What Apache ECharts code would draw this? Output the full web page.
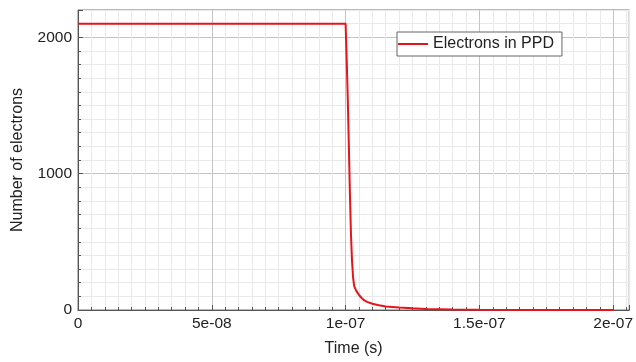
<!DOCTYPE html>
<html>
<head>
<meta charset="utf-8">
<script src="https://cdn.jsdelivr.net/npm/echarts@6/dist/echarts.min.js"></script>
<style>html,body{margin:0;padding:0;background:#fff}#c{width:636px;height:362px}</style>
</head>
<body>
<div id="c"></div>
<script>
var seriesName = 'Electrons in PPD';
var timeS = [0, 1.000e-7, 1.004e-7, 1.008e-7, 1.012e-7, 1.016e-7, 1.020e-7, 1.024e-7, 1.028e-7, 1.032e-7, 1.040e-7, 1.050e-7, 1.060e-7, 1.070e-7, 1.080e-7, 1.100e-7, 1.120e-7, 1.150e-7, 1.200e-7, 1.250e-7, 1.300e-7, 1.400e-7, 1.500e-7, 1.700e-7, 2.000e-7];
var electrons = [2100, 2100, 1850, 1560, 1220, 870, 560, 360, 240, 175, 140, 110, 88, 70, 60, 46, 36, 25, 18, 12, 7, 3, 1, 0, 0];
var xTickValues = [0, 5e-8, 1e-7, 1.5e-7, 2e-7];
var xTickLabels = ['0', '5e-08', '1e-07', '1.5e-07', '2e-07'];
var yTickValues = [0, 1000, 2000];
var yTickLabels = ['0', '1000', '2000'];

var FONT = '"Liberation Sans", Arial, sans-serif';
var X_MAX = 2.06e-7, Y_MAX = 2200;
var minorColors = ['#c4c4c4','#e9e9e9','#e9e9e9','#e9e9e9','#e9e9e9','#e9e9e9','#e9e9e9','#e9e9e9','#e9e9e9','#e9e9e9'];

function lookup(vals, labels, v, tol) {
  for (var i = 0; i < vals.length; i++) if (Math.abs(vals[i] - v) < tol) return labels[i];
  return '';
}

var chart = echarts.init(document.getElementById('c'), null, {renderer: 'canvas'});
var data = timeS.map(function (t, i) { return [t, electrons[i]]; });

chart.setOption({
  animation: false,
  backgroundColor: '#fff',
  grid: {left: 78, right: 4, top: 10, bottom: 52, show: true, borderColor: '#777', borderWidth: 1, backgroundColor: 'transparent'},
  legend: {
    data: [seriesName], left: 397, top: 32, orient: 'vertical',
    padding: [4, 8, 4, 1], itemWidth: 30, itemHeight: 2, icon: 'rect',
    backgroundColor: '#fff', borderColor: '#666', borderWidth: 1, borderRadius: 0,
    textStyle: {fontFamily: FONT, fontSize: 16, color: '#222'}
  },
  xAxis: [{
    type: 'value', min: 0, max: X_MAX, interval: 5e-9,
    axisLine: {show: true, lineStyle: {color: '#555'}},
    axisTick: {show: true, inside: true, length: 3, lineStyle: {color: '#555'}},
    axisLabel: {show: false},
    splitLine: {show: true, lineStyle: {color: minorColors, width: 1}}
  }, {
    type: 'value', min: 0, max: X_MAX, interval: 5e-8, position: 'bottom',
    name: 'Time (s)', nameLocation: 'middle', nameGap: 31,
    nameTextStyle: {fontFamily: FONT, fontSize: 16, color: '#222'},
    axisLine: {show: false},
    axisTick: {show: true, inside: true, length: 5, lineStyle: {color: '#555'}},
    axisLabel: {show: true, margin: 6, fontFamily: FONT, fontSize: 15.5, color: '#222', showMaxLabel: true,
      formatter: function (v) { return lookup(xTickValues, xTickLabels, v, 1e-10); }},
    splitLine: {show: false}
  }],
  yAxis: [{
    type: 'value', min: 0, max: Y_MAX, interval: 100,
    axisLine: {show: true, lineStyle: {color: '#555'}},
    axisTick: {show: true, inside: true, length: 3, lineStyle: {color: '#555'}},
    axisLabel: {show: false},
    splitLine: {show: true, lineStyle: {color: minorColors, width: 1}}
  }, {
    type: 'value', min: 0, max: Y_MAX, interval: 1000, position: 'left',
    name: 'Number of electrons', nameLocation: 'middle', nameGap: 52,
    nameTextStyle: {fontFamily: FONT, fontSize: 16, color: '#222'},
    axisLine: {show: false},
    axisTick: {show: true, inside: true, length: 5, lineStyle: {color: '#555'}},
    axisLabel: {show: true, margin: 6, fontFamily: FONT, fontSize: 15.5, color: '#222',
      formatter: function (v) { return lookup(yTickValues, yTickLabels, v, 0.5); }},
    splitLine: {show: false}
  }],
  series: [{
    name: seriesName, type: 'line', data: data, xAxisIndex: 0, yAxisIndex: 0,
    showSymbol: false, symbol: 'none', smooth: false,
    lineStyle: {color: '#e8141c', width: 2}, itemStyle: {color: '#e8141c'}
  }]
});
</script>
</body>
</html>
